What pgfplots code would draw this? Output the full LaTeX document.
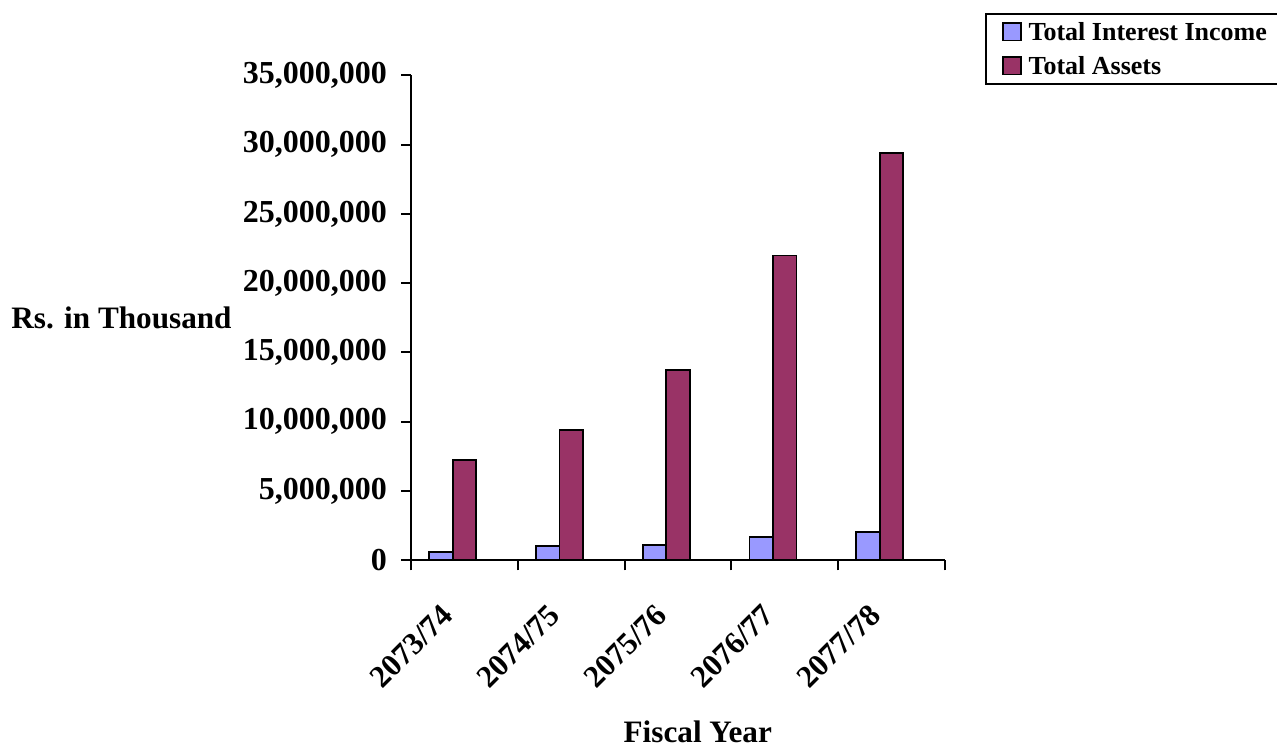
\documentclass[border=0pt]{standalone}
\usepackage{fontspec}
\setmainfont{Liberation Serif}
\usepackage{pgfplots}
\pgfplotsset{compat=1.18}

\definecolor{incomeblue}{RGB}{153,153,255}
\definecolor{assetplum}{RGB}{153,51,102}
\newcommand{\bigfont}{\fontsize{15.6}{18}\selectfont\bfseries}

\begin{document}
\begin{tikzpicture}
\useasboundingbox (0,0) rectangle (638.5pt,373pt);
\begin{axis}[
  at={(205.5pt,92.85pt)}, anchor=south west,
  scale only axis, width=267pt, height=242.5pt,
  ybar,
  xmin=-0.5, xmax=4.5, ymin=0, ymax=35000000,
  axis x line*=bottom, axis y line*=left,
  axis line style={-, line width=1pt},
  tick align=outside,
  major tick length=5pt, minor tick length=5pt,
  tick style={line width=1pt, black},
  xtick={0,1,2,3,4},
  xticklabels={2073/74,2074/75,2075/76,2076/77,2077/78},
  major x tick style={draw=none},
  minor xtick={-0.5,0.5,1.5,2.5,3.5,4.5},
  ytick={0,5000000,10000000,15000000,20000000,25000000,30000000,35000000},
  scaled y ticks=false,
  /pgf/number format/assume math mode=true,
  yticklabel style={/pgf/number format/fixed, /pgf/number format/1000 sep={,},
    font=\fontsize{16}{18}\selectfont\bfseries, xshift=-3.5pt},
  xticklabel style={font=\bigfont, xshift=-8.2pt, yshift=-19.9pt, rotate=45, anchor=east, inner sep=0pt},
  xlabel={Fiscal Year},
  every axis x label/.style={at={(axis description cs:0.537,0)}, anchor=base, yshift=-91pt, font=\bigfont, inner sep=0pt},
  ylabel={Rs. in Thousand},
  every axis y label/.style={at={(axis description cs:0,0.5)}, anchor=east, xshift=-89.5pt, font=\bigfont, inner sep=0pt},
  legend style={at={(1.0749,1.1291)}, anchor=north west, draw=black, line width=1pt,
    font=\fontsize{13}{15}\selectfont\bfseries,
    inner xsep=8.2pt, inner ysep=4.3pt, row sep=7.4pt, column sep=3.5pt,
    nodes={inner sep=0pt, text height=8.8pt, text depth=0pt}, cells={anchor=west}},
  legend image code/.code={\draw[#1, line width=0.9pt] (0pt,-4.35pt) rectangle (8.7pt,4.35pt);},
]
% interest income, left bar of each year
\addplot[fill=incomeblue, draw=black, line width=0.9pt, bar width=0.22, bar shift=-0.22]
  coordinates {(0,580000) (1,1010000) (2,1130000) (3,1680000) (4,2020000)};
% total assets, centred on each year
\addplot[fill=assetplum, draw=black, line width=0.9pt, bar width=0.22, bar shift=0]
  coordinates {(0,7240000) (1,9380000) (2,13750000) (3,22000000) (4,29410000)};
\legend{Total Interest Income, Total Assets}
\end{axis}
\end{tikzpicture}
\end{document}
